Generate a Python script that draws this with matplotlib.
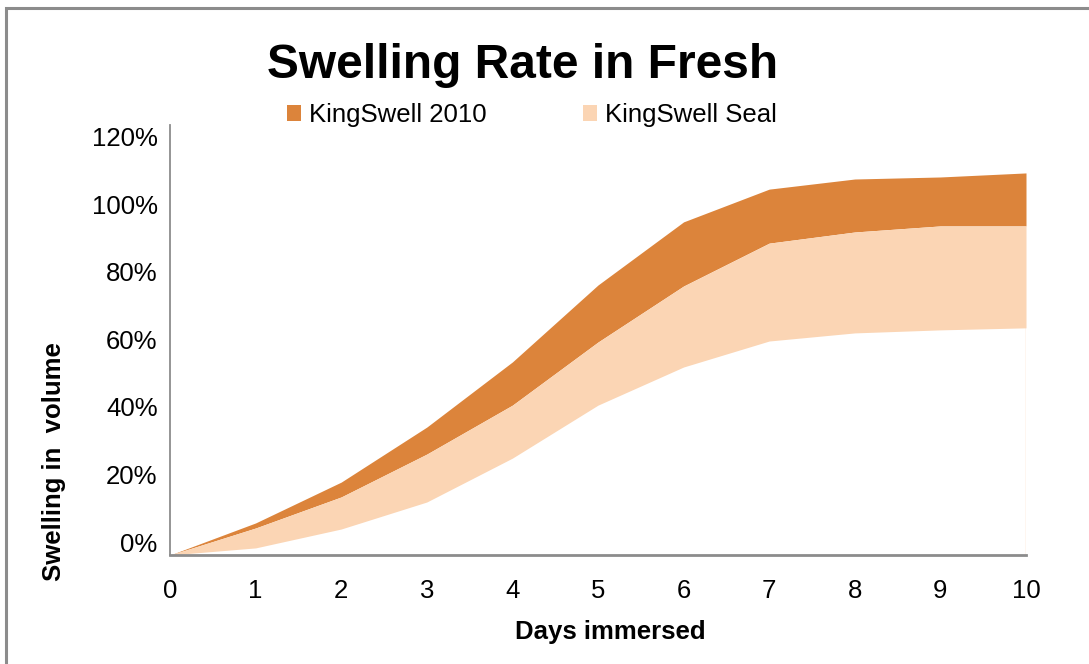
import matplotlib
matplotlib.use("Agg")
import matplotlib.pyplot as plt
import matplotlib.transforms as mtransforms
from matplotlib.patches import Patch, Rectangle

# values (swelling in %)
days = [0, 1, 2, 3, 4, 5, 6, 7, 8, 9, 10]
seal_min = [0, 2.1, 7.7, 15.7, 28.7, 44.4, 55.7, 63.4, 65.8, 66.7, 67.3]
seal_max = [0, 8.0, 17.2, 29.9, 44.4, 63.1, 79.7, 92.4, 95.7, 97.5, 97.5]
ks2010_max = [0, 9.5, 21.6, 37.9, 57.2, 80.0, 98.7, 108.4, 111.4, 112.0, 113.2]
y_ticks = [0, 20, 40, 60, 80, 100, 120]
y_ticklabels = ["0%", "20%", "40%", "60%", "80%", "100%", "120%"]

dark = "#DC843B"
light = "#FBD5B4"
grey = "#8c8c8c"

plt.rcParams["font.family"] = ["Liberation Sans", "DejaVu Sans"]

fig = plt.figure(figsize=(10.89, 6.64), dpi=100)
ax = fig.add_axes([170 / 1089, 109 / 664, 856 / 1089, 430 / 664])

ax.fill_between(days, seal_max, ks2010_max, color=dark, linewidth=0)
ax.fill_between(days, seal_min, seal_max, color=light, linewidth=0)
ax.plot([days[-1], days[-1]], [0, seal_min[-1]], color=light, linewidth=1)

ax.set_xlim(0, 10)
ax.set_ylim(0, 127.4)
ax.set_xticks(days)
ax.set_yticks(y_ticks)
ax.set_yticklabels(y_ticklabels)
ax.tick_params(axis="both", length=0, labelsize=18.5, colors="black")
ax.tick_params(axis="y", pad=9)
ax.tick_params(axis="x", pad=17)

# the reference shows the y labels a little above their positions
shift = mtransforms.ScaledTranslation(0, 13 / 100, fig.dpi_scale_trans)
for lab in ax.get_yticklabels():
    lab.set_transform(lab.get_transform() + shift)

for side in ["top", "right"]:
    ax.spines[side].set_visible(False)
ax.spines["left"].set_color(grey)
ax.spines["left"].set_linewidth(1.3)
ax.spines["bottom"].set_color(grey)
ax.spines["bottom"].set_linewidth(2)

fig.text(54 / 1089, 1 - 462 / 664, "Swelling in  volume", rotation=90,
         ha="center", va="center", fontsize=18.5, fontweight="bold")
fig.text(610 / 1089, 1 - 632 / 664, "Days immersed",
         ha="center", va="center", fontsize=18.5, fontweight="bold")
fig.text(523 / 1089, 1 - 65 / 664, "Swelling Rate in Fresh",
         ha="center", va="center", fontsize=34.5, fontweight="bold")

handles = [Patch(facecolor=dark, edgecolor="none"),
           Patch(facecolor=light, edgecolor="none")]
fig.legend(handles, ["KingSwell 2010", "KingSwell Seal"], loc="center",
           bbox_to_anchor=(532 / 1089, 1 - 115 / 664), ncol=2, frameon=False,
           fontsize=18.5, handlelength=0.55, handleheight=0.55,
           handletextpad=0.3, columnspacing=3.75, borderpad=0)

fig.add_artist(Rectangle((6 / 1089, -0.1), 1.2, 1.1 - 8 / 664,
                         transform=fig.transFigure, fill=False,
                         edgecolor=grey, linewidth=2.2))

fig.savefig("out.png", dpi=100)
